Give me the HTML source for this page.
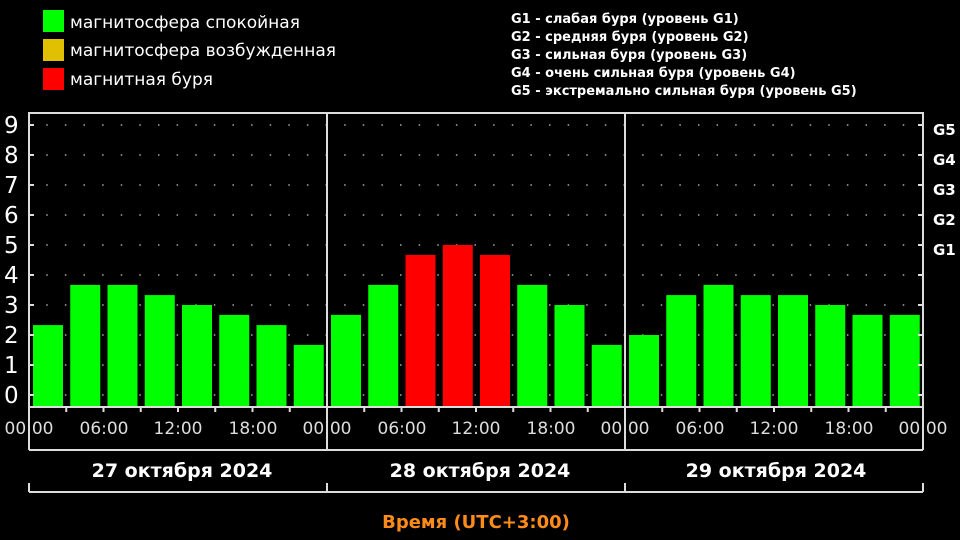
<!DOCTYPE html>
<html><head><meta charset="utf-8"><style>
html,body{margin:0;padding:0;background:#000;width:960px;height:540px;overflow:hidden}
svg{display:block}
text{font-family:"DejaVu Sans","Liberation Sans",sans-serif}
</style></head><body>
<svg width="960" height="540" xmlns="http://www.w3.org/2000/svg">
<rect width="960" height="540" fill="#000"/>
<rect x="43" y="10" width="21" height="22" fill="#00ff00"/>
<rect x="43" y="39" width="21" height="22" fill="#e0c000"/>
<rect x="43" y="68" width="21" height="22" fill="#ff0000"/>
<g fill="#fff" font-size="17">
<text x="70" y="28">магнитосфера спокойная</text>
<text x="70" y="56">магнитосфера возбужденная</text>
<text x="70" y="85">магнитная буря</text>
</g>
<g fill="#fff" font-size="13" font-weight="bold">
<text x="511" y="23">G1 - слабая буря (уровень G1)</text>
<text x="511" y="41">G2 - средняя буря (уровень G2)</text>
<text x="511" y="59">G3 - сильная буря (уровень G3)</text>
<text x="511" y="77">G4 - очень сильная буря (уровень G4)</text>
<text x="511" y="95">G5 - экстремально сильная буря (уровень G5)</text>
</g>
<g stroke="#aaa" stroke-width="1.5" stroke-dasharray="1.5 17.12">
<line x1="46.25" y1="125" x2="922" y2="125"/>
<line x1="46.25" y1="155" x2="922" y2="155"/>
<line x1="46.25" y1="185" x2="922" y2="185"/>
<line x1="46.25" y1="215" x2="922" y2="215"/>
<line x1="46.25" y1="245" x2="922" y2="245"/>
<line x1="46.25" y1="275" x2="922" y2="275"/>
<line x1="46.25" y1="305" x2="922" y2="305"/>
<line x1="46.25" y1="335" x2="922" y2="335"/>
<line x1="46.25" y1="365" x2="922" y2="365"/>
<line x1="46.25" y1="395" x2="922" y2="395"/>
</g>
<g fill="#00ff00">
<rect x="33" y="325.1" width="30" height="81.9"/>
<rect x="70.25" y="284.9" width="30" height="122.1"/>
<rect x="107.5" y="284.9" width="30" height="122.1"/>
<rect x="144.75" y="295.1" width="30" height="111.9"/>
<rect x="182" y="305" width="30" height="102"/>
<rect x="219.25" y="314.9" width="30" height="92.1"/>
<rect x="256.5" y="325.1" width="30" height="81.9"/>
<rect x="293.75" y="344.9" width="30" height="62.1"/>
<rect x="331" y="314.9" width="30" height="92.1"/>
<rect x="368.25" y="284.9" width="30" height="122.1"/>
<rect x="517.25" y="284.9" width="30" height="122.1"/>
<rect x="554.5" y="305" width="30" height="102"/>
<rect x="591.75" y="344.9" width="30" height="62.1"/>
<rect x="629" y="335" width="30" height="72"/>
<rect x="666.25" y="295.1" width="30" height="111.9"/>
<rect x="703.5" y="284.9" width="30" height="122.1"/>
<rect x="740.75" y="295.1" width="30" height="111.9"/>
<rect x="778" y="295.1" width="30" height="111.9"/>
<rect x="815.25" y="305" width="30" height="102"/>
<rect x="852.5" y="314.9" width="30" height="92.1"/>
<rect x="889.75" y="314.9" width="30" height="92.1"/>
</g>
<g fill="#ff0000">
<rect x="405.5" y="254.9" width="30" height="152.1"/>
<rect x="442.75" y="245" width="30" height="162"/>
<rect x="480" y="254.9" width="30" height="152.1"/>
</g>
<g stroke="#ddd" stroke-width="2" fill="none">
<rect x="29" y="113" width="894" height="294"/>
<line x1="327" y1="113" x2="327" y2="450"/>
<line x1="625" y1="113" x2="625" y2="450"/>
<line x1="29" y1="407" x2="29" y2="450"/>
<line x1="923" y1="407" x2="923" y2="450"/>
<line x1="29" y1="450" x2="923" y2="450"/>
<line x1="29" y1="492" x2="923" y2="492"/>
<line x1="29" y1="483" x2="29" y2="492"/>
<line x1="327" y1="483" x2="327" y2="492"/>
<line x1="625" y1="483" x2="625" y2="492"/>
<line x1="923" y1="483" x2="923" y2="492"/>
<path d="M29 125h5M29 155h5M29 185h5M29 215h5M29 245h5M29 275h5M29 305h5M29 335h5M29 365h5M29 395h5M918 125h5M918 155h5M918 185h5M918 215h5M918 245h5M918 275h5M918 305h5M918 335h5M918 365h5M918 395h5"/>
<path d="M66.25 407v5M103.5 407v5M140.75 407v5M178 407v5M215.25 407v5M252.5 407v5M289.75 407v5M364.25 407v5M401.5 407v5M438.75 407v5M476 407v5M513.25 407v5M550.5 407v5M587.75 407v5M662.25 407v5M699.5 407v5M736.75 407v5M774 407v5M811.25 407v5M848.5 407v5M885.75 407v5"/>
</g>
<g fill="#fff" font-size="23" font-family="Liberation Sans">
<text x="4" y="133">9</text><text x="4" y="163">8</text><text x="4" y="193">7</text><text x="4" y="223">6</text><text x="4" y="253">5</text>
<text x="4" y="283">4</text><text x="4" y="313">3</text><text x="4" y="343">2</text><text x="4" y="373">1</text><text x="4" y="403">0</text>
</g>
<g fill="#fff" font-size="15" font-weight="bold">
<text x="933" y="135">G5</text><text x="933" y="165">G4</text><text x="933" y="195">G3</text><text x="933" y="225">G2</text><text x="933" y="255">G1</text>
</g>
<g fill="#ddd" font-size="17" font-family="Liberation Mono" text-anchor="middle">
<text x="29" y="434">00:00</text><text x="104" y="434">06:00</text><text x="178" y="434">12:00</text><text x="253" y="434">18:00</text>
<text x="327" y="434">00:00</text><text x="402" y="434">06:00</text><text x="476" y="434">12:00</text><text x="551" y="434">18:00</text>
<text x="625" y="434">00:00</text><text x="700" y="434">06:00</text><text x="774" y="434">12:00</text><text x="849" y="434">18:00</text>
<text x="923" y="434">00:00</text>
</g>
<g fill="#fff" font-size="19" font-weight="bold" font-family="Liberation Serif" text-anchor="middle">
<text x="182" y="477">27 октября 2024</text>
<text x="480" y="477">28 октября 2024</text>
<text x="776" y="477">29 октября 2024</text>
</g>
<text x="476" y="528" fill="#ff8c1a" font-size="18" font-weight="bold" text-anchor="middle">Время (UTC+3:00)</text>
</svg>
</body></html>
